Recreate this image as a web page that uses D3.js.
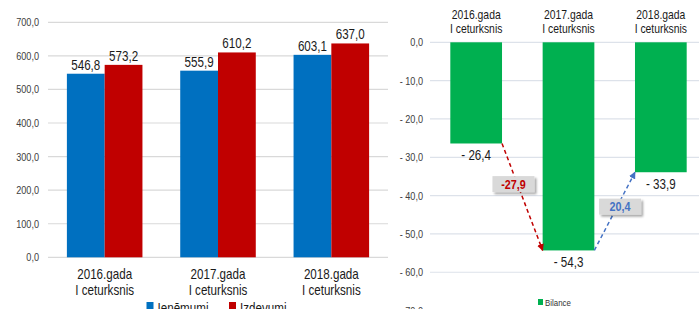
<!DOCTYPE html>
<html>
<head>
<meta charset="utf-8">
<script src="https://cdn.jsdelivr.net/npm/d3@7"></script>
<style>
  body { margin: 0; background: #fff; }
  svg { display: block; font-family: "Liberation Sans", Arial, sans-serif; }
</style>
</head>
<body>
<div id="chart"></div>
<script>

// data
var categories = ["2016.gada|I ceturksnis", "2017.gada|I ceturksnis", "2018.gada|I ceturksnis"]
var incomes = [546.8, 555.9, 603.1]
var expenses = [573.2, 610.2, 637.0]
var balance = [-26.4, -54.3, -33.9]
var changes = [-27.9, 20.4]
var leftTicks = [0, 100, 200, 300, 400, 500, 600, 700]
var rightTicks = [0, -10, -20, -30, -40, -50, -60, -70]
var seriesNames = ["Ieņēmumi", "Izdevumi"]
var balanceName = "Bilance"

var blue = "#0070c0", red = "#c00000", green = "#00b050"
var squeeze = 0.83   // the original uses a narrow face

function fmt(num) {
	var s = Math.abs(num).toFixed(1).replace(".", ",")
	return num < 0 ? "- " + s : s
}

// narrow text: a group that is squeezed horizontally
function label(parent, x, y, str, size, anchor, fill, weight) {
	return parent.append("g")
		.attr("transform", "translate(" + x + "," + y + ") scale(" + squeeze + ",1)")
		.append("text")
		.attr("text-anchor", anchor || "middle")
		.attr("font-size", size)
		.attr("font-weight", weight || "normal")
		.attr("fill", fill || "#1a1a1a")
		.text(str)
}

var svg = d3.select("#chart").append("svg")
	.attr("width", 699)
	.attr("height", 309)

// ---------- left chart: incomes vs expenses ----------
var xL = d3.scaleBand().domain(categories).range([48, 388])
var xL1 = d3.scaleBand().domain([0, 1]).range([0, xL.bandwidth()]).paddingOuter(0.5)
var yL = d3.scaleLinear().domain([0, 700]).range([257.3, 22.3])

var left = svg.append("g")

left.selectAll(".gridL")
	.data(leftTicks)
	.enter().append("line")
	.attr("x1", 48).attr("x2", 388)
	.attr("y1", function(d) { return yL(d) })
	.attr("y2", function(d) { return yL(d) })
	.attr("stroke", "#d9d9d9")
	.attr("stroke-width", 1.2)

leftTicks.forEach(function(d) {
	label(left, 39, yL(d) + 4, fmt(d), 11, "end", "#404040")
})

var series = [incomes, expenses]
var colours = [blue, red]

series.forEach(function(vals, s) {
	var g = left.append("g")
	g.selectAll("rect")
		.data(vals)
		.enter().append("rect")
		.attr("x", function(d, i) { return xL(categories[i]) + xL1(s) })
		.attr("y", function(d) { return yL(d) })
		.attr("width", xL1.bandwidth())
		.attr("height", function(d) { return yL(0) - yL(d) })
		.attr("fill", colours[s])
	vals.forEach(function(d, i) {
		label(g, xL(categories[i]) + xL1(s) + xL1.bandwidth() / 2, yL(d) - 4, fmt(d), 14)
	})
})

categories.forEach(function(c) {
	c.split("|").forEach(function(p, k) {
		label(left, xL(c) + xL.bandwidth() / 2, 279 + k * 16, p, 14)
	})
})

var legL = left.append("g")
seriesNames.forEach(function(n, s) {
	var lx = s == 0 ? 146.5 : 229
	legL.append("rect").attr("x", lx).attr("y", 302).attr("width", 7).attr("height", 7).attr("fill", colours[s])
	label(legL, lx + 11, 313, n, 14, "start")
})

// ---------- right chart: balance ----------
var xR = d3.scaleBand().domain(categories).range([430, 707]).paddingInner(0.44).paddingOuter(0.22)
var yR = d3.scaleLinear().domain([-70, 0]).range([310.6, 42.3])

var right = svg.append("g")

right.selectAll(".gridR")
	.data(rightTicks)
	.enter().append("line")
	.attr("x1", 430).attr("x2", 699)
	.attr("y1", function(d) { return yR(d) })
	.attr("y2", function(d) { return yR(d) })
	.attr("stroke", "#dde2ea")
	.attr("stroke-width", 1.2)

rightTicks.forEach(function(d) {
	label(right, 423, yR(d) + 4, fmt(d), 11, "end", "#404040")
})

right.selectAll(".bar")
	.data(balance)
	.enter().append("rect")
	.attr("x", function(d, i) { return xR(categories[i]) })
	.attr("y", yR(0))
	.attr("width", xR.bandwidth())
	.attr("height", function(d) { return yR(d) - yR(0) })
	.attr("fill", green)

balance.forEach(function(d, i) {
	label(right, xR(categories[i]) + xR.bandwidth() / 2, yR(d) + 17, fmt(d), 14)
})

categories.forEach(function(c) {
	c.split("|").forEach(function(p, k) {
		label(right, xR(c) + xR.bandwidth() / 2, 19 + k * 13.5, p, 12.5)
	})
})

// arrows between bars
var defs = svg.append("defs")
var shadow = defs.append("filter").attr("id", "shadow").attr("x", "-20%").attr("y", "-20%").attr("width", "150%").attr("height", "160%")
shadow.append("feDropShadow").attr("dx", 2).attr("dy", 2).attr("stdDeviation", 1.2).attr("flood-color", "#000").attr("flood-opacity", 0.35)

var arrowColours = [red, "#4472c4"]
var boxT = [0.38, 0.56]
var boxDx = [-4, 3]

changes.forEach(function(ch, i) {
	var col = arrowColours[i]
	defs.append("marker")
		.attr("id", "arrow" + i)
		.attr("viewBox", "0 0 10 10")
		.attr("refX", 9).attr("refY", 5)
		.attr("markerWidth", 7).attr("markerHeight", 7)
		.attr("markerUnits", "userSpaceOnUse")
		.attr("orient", "auto")
		.append("path").attr("d", "M0,0L10,5L0,10z").attr("fill", col)

	var x1 = xR(categories[i]) + xR.bandwidth(), y1 = yR(balance[i])
	var x2 = xR(categories[i + 1]), y2 = yR(balance[i + 1])

	right.append("line")
		.attr("x1", x1).attr("y1", y1)
		.attr("x2", x2).attr("y2", y2)
		.attr("stroke", col)
		.attr("stroke-width", 1.5)
		.attr("stroke-dasharray", "4,3")
		.attr("marker-end", "url(#arrow" + i + ")")

	var cx = x1 + (x2 - x1) * boxT[i] + boxDx[i]
	var cy = y1 + (y2 - y1) * boxT[i]
	right.append("rect")
		.attr("x", cx - 21).attr("y", cy - 8)
		.attr("width", 42).attr("height", 16)
		.attr("fill", "#d9d9d9")
		.attr("filter", "url(#shadow)")
	label(right, cx, cy + 4.5, (ch < 0 ? "-" : "") + Math.abs(ch).toFixed(1).replace(".", ","), 13, "middle", col, "bold")
})

var legR = right.append("g")
legR.append("rect").attr("x", 538).attr("y", 299).attr("width", 5).attr("height", 6).attr("fill", green)
label(legR, 545, 305.5, balanceName, 9.5, "start", "#333")

</script>
</body>
</html>
